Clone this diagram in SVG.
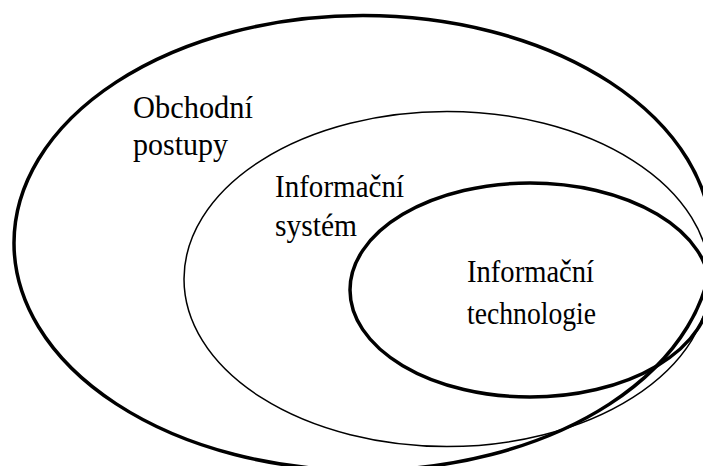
<svg xmlns="http://www.w3.org/2000/svg" width="703" height="466" viewBox="0 0 703 466">
<style>
.e{fill:none;stroke:#000}
.thick{stroke-width:3.5}
.thin{stroke-width:1.5}
.t{font-family:"Liberation Serif","Times New Roman",serif;font-size:31px;fill:#000}
</style>
<rect width="703" height="466" fill="#fff"/>
<g id="obchodni-postupy">
<ellipse class="e thick" cx="363" cy="243" rx="349" ry="227.5"/>
<text class="t" x="133" y="118" textLength="120" lengthAdjust="spacingAndGlyphs">Obchodní</text>
<text class="t" x="133" y="155" textLength="95" lengthAdjust="spacingAndGlyphs">postupy</text>
</g>
<g id="informacni-system">
<ellipse class="e thin" cx="447" cy="279" rx="263" ry="167.5"/>
<text class="t" x="275" y="197" textLength="129" lengthAdjust="spacingAndGlyphs">Informační</text>
<text class="t" x="275" y="236" textLength="82" lengthAdjust="spacingAndGlyphs">systém</text>
</g>
<g id="informacni-technologie">
<ellipse class="e thick" cx="530" cy="290" rx="180" ry="107"/>
<text class="t" x="467" y="282" textLength="127" lengthAdjust="spacingAndGlyphs">Informační</text>
<text class="t" x="467" y="324" textLength="129" lengthAdjust="spacingAndGlyphs">technologie</text>
</g>
<g id="connectors"/>
</svg>
